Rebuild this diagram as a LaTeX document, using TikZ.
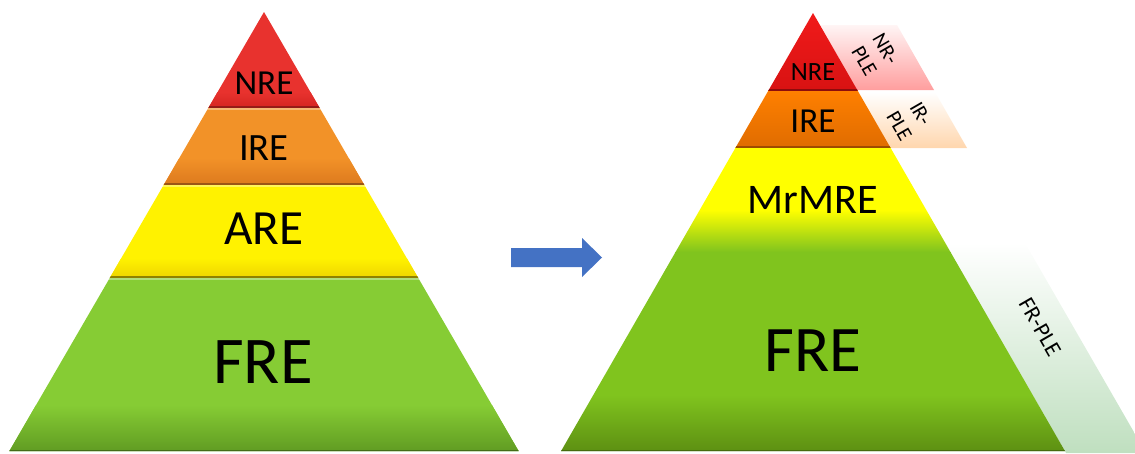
\documentclass[tikz,border=0pt]{standalone}
\usepackage{fontspec}
\setmainfont{Carlito}
\usepackage{tikz}
\usepackage{xcolor}
\definecolor{lred}{HTML}{E8322E}
\definecolor{lredd}{HTML}{D52622}
\definecolor{lorange}{HTML}{F29228}
\definecolor{lorangedd}{HTML}{DD7A1E}
\definecolor{lyellow}{HTML}{FFF200}
\definecolor{lyellowd}{HTML}{EFD600}
\definecolor{lgreen}{HTML}{86CC34}
\definecolor{lgreend}{HTML}{5F9A22}
\definecolor{rred}{HTML}{F51C1C}
\definecolor{rredd}{HTML}{D81212}
\definecolor{rorange}{HTML}{FF8000}
\definecolor{rorangedd}{HTML}{E06C00}
\definecolor{ryellow}{HTML}{FFFF00}
\definecolor{rgreen}{HTML}{80C41E}
\definecolor{rgreend}{HTML}{5C8E12}
\definecolor{arrowblue}{HTML}{4472C4}
\tikzstyle{lbl} = [inner sep=0pt, text=black]
\tikzstyle{ple} = [inner sep=0pt, rotate=-60, align=center, text=black]
\tikzstyle{sep} = [line width=1.2pt]
\tikzstyle{hilite} = [line width=0.8pt, white, opacity=0.35]

\begin{document}
\begin{tikzpicture}[x=0.02cm, y=-0.02cm]
        \useasboundingbox (0,0) rectangle (1135,453);

        % left pyramid
        \begin{scope}
            \clip (264,12) -- (518.6,451) -- (9.4,451) -- cycle;
            \fill[lred] (0,0) rectangle (530,107);
            \shade[top color=lred, bottom color=lredd] (0,92) rectangle (530,107);
            \fill[lorange] (0,107) rectangle (530,184);
            \shade[top color=lorange, bottom color=lorangedd] (0,158) rectangle (530,184);
            \fill[lyellow] (0,184) rectangle (530,277);
            \shade[top color=lyellow, bottom color=lyellowd] (0,258) rectangle (530,277);
            \fill[lgreen] (0,277) rectangle (530,453);
            \shade[top color=lgreen, bottom color=lgreend] (0,405) rectangle (530,453);
            \draw[sep, lredd!70!black] (0,107) -- (530,107);
            \draw[sep, lorangedd!70!black] (0,184) -- (530,184);
            \draw[sep, lyellowd!60!black] (0,277) -- (530,277);
            \draw[hilite] (0,109) -- (530,109);
            \draw[hilite] (0,186) -- (530,186);
            \draw[hilite] (0,279) -- (530,279);
            \draw[sep, lgreend!70!black] (0,451) -- (530,451);
        \end{scope}

        \node[lbl, font=\fontsize{20}{22}\selectfont] (nreL) at (264,83) {NRE};
        \node[lbl, font=\fontsize{22}{24}\selectfont] (ireL) at (264,148) {IRE};
        \node[lbl, font=\fontsize{28}{30}\selectfont] (areL) at (264,229) {ARE};
        \node[lbl, font=\fontsize{38}{40}\selectfont] (freL) at (263,362) {FRE};

        % arrow
        \fill[arrowblue] (511,248) -- (582,248) -- (582,238) -- (602,257.5)
            -- (582,277) -- (582,267) -- (511,267) -- cycle;

        % PLE bands behind the right pyramid
        \shade[top color=red!4, bottom color=red!38] (820,25) -- (897,25) -- (934,90) -- (857,90) -- cycle;
        \shade[top color=white, bottom color=orange!32] (858,92) -- (935,92) -- (967,148) -- (890,148) -- cycle;
        \shade[top color=white, bottom color=green!50!black!25] (945,243) -- (1025,243) -- (1146,453) -- (1066,453) -- cycle;

        % right pyramid
        \begin{scope}
            \clip (813,13) -- (1064.9,451) -- (561.1,451) -- cycle;
            \shade[top color=rred, bottom color=rredd] (540,0) rectangle (1080,90);
            \shade[top color=rorange, bottom color=rorangedd] (540,90) rectangle (1080,147);
            \fill[ryellow] (540,147) rectangle (1080,210);
            \shade[top color=ryellow, bottom color=rgreen] (540,210) rectangle (1080,252);
            \fill[rgreen] (540,252) rectangle (1080,395);
            \shade[top color=rgreen, bottom color=rgreend] (540,395) rectangle (1080,453);
            \draw[sep, rredd!65!black] (540,90) -- (1080,90);
            \draw[sep, rorangedd!70!black] (540,147) -- (1080,147);
            \draw[sep, rgreend!75!black] (540,451) -- (1080,451);
        \end{scope}

        \node[lbl, font=\fontsize{15}{17}\selectfont] (nreR) at (813,72) {NRE};
        \node[lbl, font=\fontsize{20}{22}\selectfont] (ireR) at (813,121) {IRE};
        \node[lbl, font=\fontsize{24}{26}\selectfont] (mrmre) at (813,200) {MrMRE};
        \node[lbl, font=\fontsize{37}{39}\selectfont] (freR) at (813,351) {FRE};

        \node[ple, font=\fontsize{12}{14}\selectfont] (nrple) at (875,55) {NR-\\PLE};
        \node[ple, font=\fontsize{12}{14}\selectfont] (irple) at (910,120) {IR-\\PLE};
        \node[ple, font=\fontsize{13}{15}\selectfont] (frple) at (1040,327) {FR-PLE};

    \end{tikzpicture}
\end{document}
